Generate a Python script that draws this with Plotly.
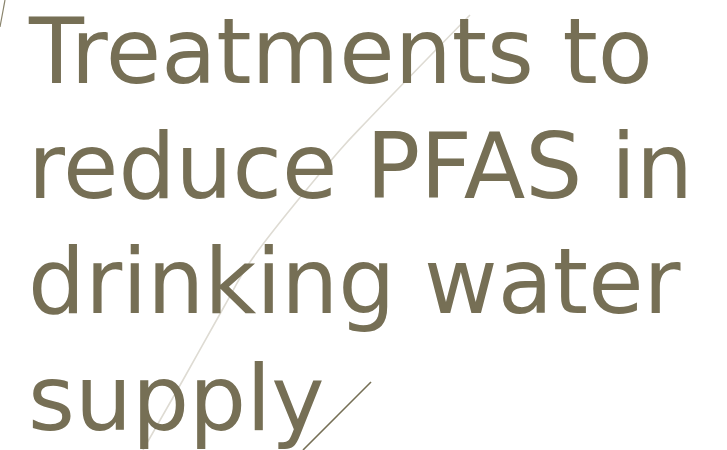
import plotly.graph_objects as go

title_lines = ["Treatments to", "reduce PFAS in", "drinking water", "supply"]
baselines = [85, 200, 315, 432]

wisp_x = [470, 368, 340, 250, 225, 183, 143]
wisp_y = [15, 120, 150, 262, 305, 380, 450]
accent_x = [371, 303]
accent_y = [382, 450]
corner_x = [5, 0]
corner_y = [0, 27]

TEXT = "#766F55"
W, H = 727, 450
FS = 90

fig = go.Figure()
fig.add_trace(go.Scatter(x=wisp_x, y=wisp_y, mode="lines", line=dict(color="#DEDBD3", width=1.6, shape="spline"), hoverinfo="skip"))
fig.add_trace(go.Scatter(x=accent_x, y=accent_y, mode="lines", line=dict(color=TEXT, width=1.6), hoverinfo="skip"))
fig.add_trace(go.Scatter(x=corner_x, y=corner_y, mode="lines", line=dict(color="#8A846C", width=1.2), hoverinfo="skip"))

for t, b in zip(title_lines, baselines):
    fig.add_annotation(x=27 / W, y=1 - (b + 0.24 * FS - 2) / H, xref="paper", yref="paper", text=t, showarrow=False,
                       xanchor="left", yanchor="bottom", borderpad=0,
                       font=dict(family="DejaVu Sans", size=FS, color=TEXT))

fig.update_layout(width=W, height=H, margin=dict(l=0, r=0, t=0, b=0),
                  paper_bgcolor="white", plot_bgcolor="white", showlegend=False,
                  xaxis=dict(range=[0, W], visible=False, fixedrange=True),
                  yaxis=dict(range=[H, 0], visible=False, fixedrange=True))
fig.write_html("out.html", config={"displayModeBar": False},
               post_script="document.body.style.margin='0';document.body.style.overflow='hidden';")
